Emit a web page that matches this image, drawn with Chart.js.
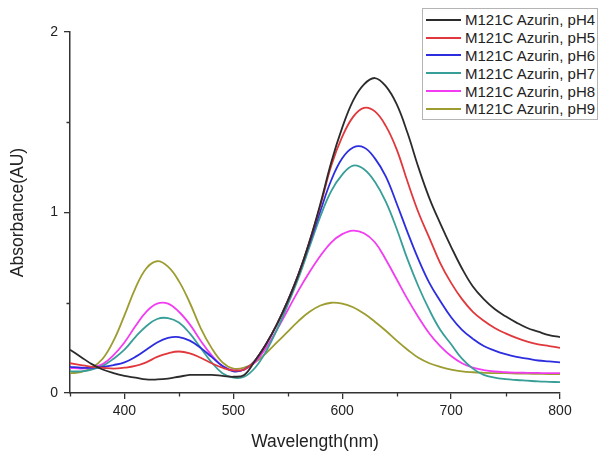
<!DOCTYPE html>
<html>
<head>
<meta charset="utf-8">
<title>M121C Azurin absorbance vs pH</title>
<script src="https://cdn.jsdelivr.net/npm/chart.js@4.4.3/dist/chart.umd.min.js"></script>
<style>
    html, body { margin: 0; padding: 0; background: #fff; }
    #wrap { position: relative; width: 606px; height: 455px; }
    #legend {
        position: absolute; left: 422px; top: 8px; width: 176px; height: 112px;
        box-sizing: border-box; border: 1px solid #b4b4b4; background: #fff;
        padding-top: 2px;
        font: 15px "Liberation Sans", Arial, sans-serif; color: #222;
    }
    .row { height: 17.8px; display: flex; align-items: center; white-space: nowrap; }
    .swatch { width: 35px; height: 2px; margin: 0 4px 0 3px; }
</style>
</head>
<body>
<div id="wrap">
    <canvas id="chart" width="606" height="455"></canvas>
    <div id="legend"></div>
</div>
<script>
// wavelength grid (nm)
const wavelengths = [350, 360, 370, 380, 390, 400, 410, 420, 430, 440,
                     450, 460, 470, 480, 490, 500, 510, 520, 530, 540,
                     550, 560, 570, 580, 590, 600, 610, 620, 630, 640,
                     650, 660, 670, 680, 690, 700, 710, 720, 730, 740,
                     750, 760, 770, 780, 790, 800];

// absorbance, one array per pH
const pH4 = [0.24, 0.20, 0.16, 0.13, 0.11, 0.095, 0.085, 0.075, 0.075, 0.08,
             0.09, 0.10, 0.10, 0.10, 0.095, 0.09, 0.10, 0.18, 0.27, 0.38,
             0.51, 0.66, 0.84, 1.05, 1.28, 1.47, 1.62, 1.71, 1.745, 1.70,
             1.60, 1.44, 1.25, 1.08, 0.94, 0.81, 0.69, 0.59, 0.52, 0.465,
             0.425, 0.39, 0.36, 0.34, 0.32, 0.31];
const pH5 = [0.165, 0.155, 0.145, 0.14, 0.135, 0.14, 0.15, 0.17, 0.20, 0.22,
             0.23, 0.22, 0.195, 0.165, 0.14, 0.125, 0.13, 0.18, 0.27, 0.38,
             0.51, 0.66, 0.84, 1.04, 1.26, 1.42, 1.53, 1.58, 1.56, 1.48,
             1.35, 1.17, 1.00, 0.86, 0.72, 0.61, 0.52, 0.45, 0.40, 0.36,
             0.33, 0.305, 0.285, 0.27, 0.26, 0.25];
const pH6 = [0.145, 0.14, 0.14, 0.145, 0.155, 0.17, 0.20, 0.24, 0.28, 0.305,
             0.31, 0.29, 0.25, 0.20, 0.15, 0.12, 0.13, 0.18, 0.27, 0.38,
             0.51, 0.66, 0.83, 1.01, 1.18, 1.30, 1.36, 1.36, 1.30, 1.20,
             1.05, 0.89, 0.74, 0.61, 0.51, 0.42, 0.35, 0.30, 0.26, 0.235,
             0.215, 0.20, 0.19, 0.18, 0.175, 0.17];
const pH7 = [0.12, 0.12, 0.13, 0.15, 0.19, 0.24, 0.31, 0.37, 0.41, 0.415,
             0.39, 0.33, 0.25, 0.17, 0.11, 0.085, 0.09, 0.14, 0.23, 0.35,
             0.49, 0.64, 0.81, 0.98, 1.12, 1.21, 1.26, 1.24, 1.17, 1.06,
             0.91, 0.74, 0.59, 0.46, 0.35, 0.27, 0.19, 0.135, 0.10, 0.085,
             0.077, 0.072, 0.068, 0.064, 0.062, 0.06];
const pH8 = [0.14, 0.135, 0.14, 0.16, 0.21, 0.28, 0.37, 0.45, 0.495, 0.495,
             0.45, 0.38, 0.29, 0.21, 0.15, 0.125, 0.13, 0.17, 0.25, 0.35,
             0.46, 0.57, 0.67, 0.76, 0.835, 0.88, 0.90, 0.885, 0.835, 0.74,
             0.63, 0.52, 0.42, 0.33, 0.26, 0.205, 0.165, 0.14, 0.127, 0.119,
             0.115, 0.113, 0.112, 0.111, 0.11, 0.11];
const pH9 = [0.11, 0.115, 0.14, 0.19, 0.29, 0.43, 0.58, 0.69, 0.73, 0.70,
             0.62, 0.50, 0.36, 0.25, 0.17, 0.135, 0.14, 0.17, 0.22, 0.28,
             0.34, 0.40, 0.45, 0.485, 0.50, 0.495, 0.475, 0.44, 0.395, 0.345,
             0.29, 0.24, 0.195, 0.165, 0.145, 0.13, 0.12, 0.115, 0.112, 0.11,
             0.11, 0.108, 0.107, 0.106, 0.105, 0.105];

const seriesLabels = ['M121C Azurin, pH4', 'M121C Azurin, pH5', 'M121C Azurin, pH6',
                      'M121C Azurin, pH7', 'M121C Azurin, pH8', 'M121C Azurin, pH9'];
const seriesValues = [pH4, pH5, pH6, pH7, pH8, pH9];
const seriesColors = ['#2b2b2b', '#e0383c', '#2d2de0', '#389e98', '#f23cf2', '#9c9c30'];

// axis ticks
const xMajorTicks = [400, 500, 600, 700, 800];
const xMinorTicks = [350, 450, 550, 650, 750];
const yMajorTicks = [0, 1, 2];
const yMinorTicks = [0.5, 1.5];

const FONT = '"Liberation Sans", Arial, sans-serif';
const AXIS_COLOR = '#333';

// short outward ticks between the labelled ones
const minorTicks = {
    id: 'minorTicks',
    afterDraw(chart) {
        const { ctx, scales: { x, y } } = chart;
        ctx.save();
        ctx.strokeStyle = AXIS_COLOR;
        ctx.lineWidth = 1.3;
        ctx.beginPath();
        xMinorTicks.forEach(v => {
            const px = Math.round(x.getPixelForValue(v)) + 0.5;
            ctx.moveTo(px, y.bottom);
            ctx.lineTo(px, y.bottom + 3.5);
        });
        yMinorTicks.forEach(v => {
            const py = Math.round(y.getPixelForValue(v)) + 0.5;
            ctx.moveTo(x.left, py);
            ctx.lineTo(x.left - 3.5, py);
        });
        ctx.stroke();
        ctx.restore();
    }
};

function buildLegend() {
    const box = document.getElementById('legend');
    box.innerHTML = seriesLabels.map((label, i) =>
        `<div class="row"><span class="swatch" style="background:${seriesColors[i]}"></span>${label}</div>`
    ).join('');
}

function buildChart() {
    const datasets = seriesLabels.map((label, i) => ({
        label,
        data: wavelengths.map((w, j) => ({ x: w, y: seriesValues[i][j] })),
        borderColor: seriesColors[i],
        borderWidth: 1.8,
        pointRadius: 0,
        fill: false,
        tension: 0.4
    }));

    const tickFont = { family: FONT, size: 14 };
    const titleFont = { family: FONT, size: 17.5 };
    const gridOpts = { drawOnChartArea: false, drawTicks: true, tickLength: 6, color: AXIS_COLOR, lineWidth: 1.3 };

    return new Chart(document.getElementById('chart'), {
        type: 'line',
        data: { datasets },
        options: {
            responsive: false,
            animation: false,
            layout: { padding: { top: 32, right: 46, bottom: 0, left: 0 } },
            plugins: { legend: { display: false }, tooltip: { enabled: false } },
            scales: {
                x: {
                    type: 'linear',
                    min: 350,
                    max: 800,
                    afterBuildTicks: s => { s.ticks = xMajorTicks.map(v => ({ value: v })); },
                    afterFit: s => { s.height = 62; },
                    grid: gridOpts,
                    border: { color: AXIS_COLOR, width: 1.5 },
                    ticks: { color: '#222', font: tickFont, padding: 4, maxRotation: 0 },
                    title: { display: true, text: 'Wavelength(nm)', color: '#222', font: titleFont, padding: { top: 0, bottom: 2 } }
                },
                y: {
                    type: 'linear',
                    min: 0,
                    max: 2,
                    afterBuildTicks: s => { s.ticks = yMajorTicks.map(v => ({ value: v })); },
                    afterFit: s => { s.width = 70; },
                    grid: gridOpts,
                    border: { color: AXIS_COLOR, width: 1.5 },
                    ticks: { color: '#222', font: tickFont, padding: 6 },
                    title: { display: true, text: 'Absorbance(AU)', color: '#222', font: titleFont, padding: { top: 8, bottom: 0 } }
                }
            }
        },
        plugins: [minorTicks]
    });
}

buildLegend();
buildChart();
</script>
</body>
</html>
